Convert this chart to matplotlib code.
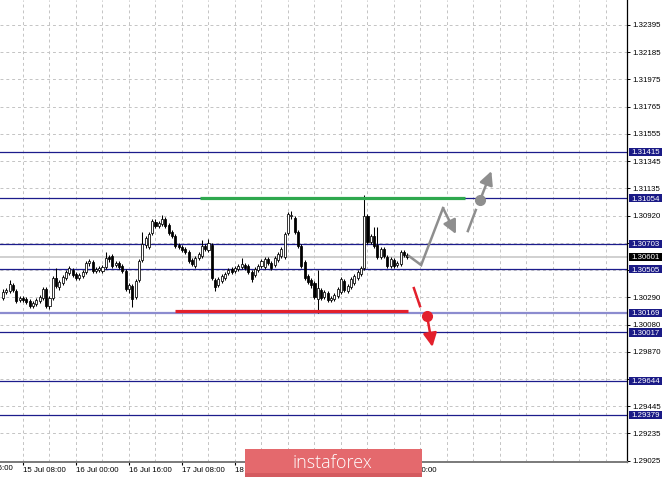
import numpy as np
import matplotlib
matplotlib.use("Agg")
import matplotlib.pyplot as plt
from matplotlib.patches import Rectangle
from matplotlib.transforms import blended_transform_factory

plt.rcParams['font.family'] = ['Liberation Sans', 'DejaVu Sans']

# ---------------- data ----------------
bar_index = list(range(10, 133))  # hourly bars, bar 0 = 12 Jul 16:00

opens = [1.30282, 1.30329, 1.30337, 1.30383, 1.30337, 1.30267, 1.30282, 1.30275, 1.30259, 1.30220,
         1.30236, 1.30259, 1.30282, 1.30352, 1.30220, 1.30282, 1.30437, 1.30368, 1.30399, 1.30437,
         1.30476, 1.30499, 1.30468, 1.30437, 1.30453, 1.30484, 1.30553, 1.30561, 1.30491, 1.30499,
         1.30491, 1.30522, 1.30600, 1.30608, 1.30538, 1.30553, 1.30530, 1.30491, 1.30352, 1.30375,
         1.30290, 1.30422, 1.30577, 1.30693, 1.30677, 1.30786, 1.30871, 1.30840, 1.30855, 1.30894,
         1.30848, 1.30793, 1.30762, 1.30693, 1.30677, 1.30662, 1.30639, 1.30577, 1.30530, 1.30592,
         1.30608, 1.30685, 1.30654, 1.30693, 1.30422, 1.30383, 1.30414, 1.30437, 1.30476, 1.30507,
         1.30491, 1.30507, 1.30522, 1.30538, 1.30530, 1.30484, 1.30460, 1.30499, 1.30530, 1.30522,
         1.30584, 1.30553, 1.30538, 1.30577, 1.30608, 1.30600, 1.30786, 1.30917, 1.30902, 1.30793,
         1.30685, 1.30561, 1.30453, 1.30422, 1.30399, 1.30275, 1.30344, 1.30290, 1.30321, 1.30267,
         1.30275, 1.30298, 1.30329, 1.30414, 1.30337, 1.30368, 1.30399, 1.30437, 1.30468, 1.30515,
         1.30917, 1.30716, 1.30762, 1.30693, 1.30600, 1.30662, 1.30600, 1.30530, 1.30577, 1.30538,
         1.30546, 1.30639, 1.30615]
highs = [1.30352, 1.30360, 1.30422, 1.30399, 1.30352, 1.30298, 1.30298, 1.30290, 1.30275, 1.30259,
         1.30282, 1.30306, 1.30368, 1.30368, 1.30298, 1.30453, 1.30515, 1.30422, 1.30460, 1.30499,
         1.30530, 1.30515, 1.30484, 1.30476, 1.30499, 1.30569, 1.30584, 1.30577, 1.30522, 1.30530,
         1.30538, 1.30639, 1.30615, 1.30623, 1.30569, 1.30569, 1.30546, 1.30507, 1.30399, 1.30391,
         1.30429, 1.30584, 1.30793, 1.30762, 1.30793, 1.30894, 1.30894, 1.30879, 1.30925, 1.30910,
         1.30863, 1.30809, 1.30778, 1.30708, 1.30693, 1.30677, 1.30654, 1.30592, 1.30608, 1.30639,
         1.30731, 1.30700, 1.30739, 1.30708, 1.30437, 1.30445, 1.30468, 1.30484, 1.30515, 1.30522,
         1.30530, 1.30546, 1.30592, 1.30553, 1.30546, 1.30499, 1.30522, 1.30546, 1.30584, 1.30600,
         1.30600, 1.30569, 1.30608, 1.30639, 1.30677, 1.30793, 1.30948, 1.30956, 1.30917, 1.30809,
         1.30700, 1.30577, 1.30468, 1.30437, 1.30414, 1.30499, 1.30360, 1.30344, 1.30337, 1.30298,
         1.30321, 1.30368, 1.30445, 1.30429, 1.30391, 1.30445, 1.30468, 1.30499, 1.30530, 1.31080,
         1.30933, 1.30778, 1.30832, 1.30832, 1.30677, 1.30677, 1.30615, 1.30600, 1.30592, 1.30569,
         1.30654, 1.30654, 1.30631]
lows = [1.30267, 1.30313, 1.30321, 1.30329, 1.30244, 1.30251, 1.30251, 1.30236, 1.30205, 1.30205,
        1.30220, 1.30244, 1.30267, 1.30205, 1.30197, 1.30267, 1.30360, 1.30344, 1.30383, 1.30422,
        1.30460, 1.30445, 1.30422, 1.30422, 1.30437, 1.30468, 1.30530, 1.30476, 1.30476, 1.30484,
        1.30476, 1.30507, 1.30561, 1.30515, 1.30522, 1.30507, 1.30476, 1.30337, 1.30321, 1.30213,
        1.30275, 1.30406, 1.30561, 1.30669, 1.30662, 1.30770, 1.30824, 1.30824, 1.30840, 1.30824,
        1.30770, 1.30747, 1.30669, 1.30662, 1.30639, 1.30623, 1.30553, 1.30530, 1.30515, 1.30577,
        1.30592, 1.30646, 1.30639, 1.30422, 1.30337, 1.30368, 1.30399, 1.30422, 1.30460, 1.30468,
        1.30476, 1.30491, 1.30507, 1.30499, 1.30468, 1.30406, 1.30445, 1.30484, 1.30515, 1.30507,
        1.30538, 1.30499, 1.30522, 1.30561, 1.30592, 1.30584, 1.30770, 1.30894, 1.30778, 1.30669,
        1.30515, 1.30422, 1.30391, 1.30360, 1.30275, 1.30166, 1.30267, 1.30275, 1.30251, 1.30251,
        1.30259, 1.30282, 1.30313, 1.30329, 1.30321, 1.30352, 1.30383, 1.30422, 1.30453, 1.30499,
        1.30700, 1.30700, 1.30669, 1.30584, 1.30584, 1.30592, 1.30515, 1.30515, 1.30515, 1.30522,
        1.30530, 1.30600, 1.30584]
closes = [1.30329, 1.30344, 1.30391, 1.30344, 1.30259, 1.30282, 1.30267, 1.30251, 1.30220, 1.30244,
          1.30267, 1.30290, 1.30352, 1.30220, 1.30282, 1.30437, 1.30375, 1.30406, 1.30445, 1.30484,
          1.30515, 1.30460, 1.30437, 1.30460, 1.30484, 1.30553, 1.30569, 1.30491, 1.30507, 1.30515,
          1.30522, 1.30592, 1.30584, 1.30530, 1.30553, 1.30522, 1.30491, 1.30352, 1.30383, 1.30275,
          1.30414, 1.30569, 1.30700, 1.30747, 1.30778, 1.30879, 1.30840, 1.30863, 1.30894, 1.30840,
          1.30786, 1.30762, 1.30685, 1.30677, 1.30654, 1.30639, 1.30569, 1.30546, 1.30592, 1.30623,
          1.30685, 1.30662, 1.30708, 1.30437, 1.30368, 1.30429, 1.30453, 1.30468, 1.30499, 1.30484,
          1.30515, 1.30530, 1.30546, 1.30515, 1.30484, 1.30429, 1.30507, 1.30530, 1.30569, 1.30584,
          1.30553, 1.30515, 1.30592, 1.30623, 1.30662, 1.30778, 1.30933, 1.30925, 1.30793, 1.30685,
          1.30530, 1.30437, 1.30406, 1.30383, 1.30290, 1.30360, 1.30282, 1.30329, 1.30267, 1.30282,
          1.30306, 1.30352, 1.30429, 1.30344, 1.30375, 1.30429, 1.30453, 1.30484, 1.30515, 1.30917,
          1.30716, 1.30762, 1.30685, 1.30600, 1.30662, 1.30608, 1.30530, 1.30584, 1.30530, 1.30553,
          1.30639, 1.30615, 1.30601]

time_tick_index = [16, 32, 48, 64, 80, 96, 112, 128]
time_tick_labels = ["15 Jul 08:00", "16 Jul 00:00", "16 Jul 16:00", "17 Jul 08:00",
                    "18 Jul 00:00", "", "", "22 Jul 00:00"]   # two labels fully hidden by the watermark
cut_label = "12 Jul 16:00"

# labels hidden behind level boxes are left blank
price_tick_labels = ["1.32395", "1.32185", "1.31975", "1.31765", "1.31555", "1.31345",
                     "1.31135", "1.30920", "", "", "1.30290", "1.30080",
                     "1.29870", "", "1.29445", "1.29235", "1.29025"]

levels = [1.31415, 1.31054, 1.30703, 1.30505, 1.30169, 1.30017, 1.29644, 1.29379]
current_price = 1.30601

green_x = [69.4, 149.4]
green_y = [1.31060, 1.31060]
red_x = [61.9, 132.2]
red_y = [1.30186, 1.30186]

up_path_x = [132.5, 136.2, 142.8, 146.7]
up_path_y = [1.30608, 1.30538, 1.30979, 1.30778]
up_dash_x = [150.3, 152.7]
up_dash_y = [1.30801, 1.30964]
up_dot = (154.0, 1.31041)
up_arrow_tip = (157.4, 1.31265)

dn_dash_x = [134.0, 135.85]
dn_dash_y = [1.30360, 1.30220]
dn_dot = (138.0, 1.30143)
dn_arrow_tip = (139.6, 1.29905)

# ---------------- figure ----------------
W, H = 665, 480
fig = plt.figure(figsize=(W / 100, H / 100), dpi=100)
fig.patch.set_facecolor('white')
ax = fig.add_axes([0, 18 / H, 627 / W, 462 / H])
ax.set_facecolor('white')
ax.set_xlim(9.057, 198.34)
ax.set_ylim(1.29015, 1.32588)

# grid
grid_kw = dict(color='#c4c4c4', lw=0.7, ls=(0, (3, 3)), zorder=1)
for gx in range(8, 200, 8):
    ax.axvline(gx, **grid_kw)
price_ticks = np.linspace(1.32395, 1.29025, len(price_tick_labels))
for gy in price_ticks:
    ax.axhline(gy, **grid_kw)

# levels
navy = '#1c1c8c'
for lv in levels:
    col = '#8c8ccf' if lv == 1.30169 else navy
    lw = 1.6 if lv == 1.30169 else 0.9
    ax.axhline(lv, color=col, lw=lw, zorder=2)
ax.axhline(current_price, color='#c8c8c8', lw=1.2, zorder=2)

# candles
x = np.array(bar_index)
o = np.array(opens); h = np.array(highs); l = np.array(lows); c = np.array(closes)
ax.vlines(x, l, h, color='black', lw=0.75, zorder=4)
bottoms = np.minimum(o, c)
heights = np.maximum(np.abs(c - o), 0.00004)
colors = ['white' if cc >= oo else 'black' for oo, cc in zip(o, c)]
ax.bar(x, heights, bottom=bottoms, width=0.62, color=colors, edgecolor='black',
       linewidth=0.55, zorder=5)

# support / resistance
ax.plot(green_x, green_y, color='#2ea84e', lw=2.3, solid_capstyle='butt', zorder=6)
ax.plot(red_x, red_y, color='#e3202c', lw=2.3, solid_capstyle='butt', zorder=6)

# forecast arrows
gray = '#8e8e8e'
ax.plot(up_path_x[:-1], up_path_y[:-1], color=gray, lw=1.8, zorder=7, solid_joinstyle='miter')
ax.annotate('', xy=(up_path_x[-1], up_path_y[-1]), xytext=(up_path_x[-2], up_path_y[-2]),
            arrowprops=dict(arrowstyle='-|>,head_length=0.9,head_width=0.45', color=gray, lw=1.8,
                            shrinkA=0, shrinkB=0, mutation_scale=9), zorder=7)
ax.plot(up_dash_x, up_dash_y, color=gray, lw=1.8, zorder=7)
ax.annotate('', xy=up_arrow_tip, xytext=up_dot,
            arrowprops=dict(arrowstyle='-|>,head_length=0.9,head_width=0.45', color=gray, lw=1.8,
                            shrinkA=0, shrinkB=0, mutation_scale=9), zorder=7)
ax.plot([up_dot[0]], [up_dot[1]], 'o', color=gray, ms=7, zorder=8)

red = '#e3202c'
ax.plot(dn_dash_x, dn_dash_y, color=red, lw=1.8, zorder=7)
ax.annotate('', xy=dn_arrow_tip, xytext=dn_dot,
            arrowprops=dict(arrowstyle='-|>,head_length=0.9,head_width=0.45', color=red, lw=1.8,
                            shrinkA=0, shrinkB=0, mutation_scale=9), zorder=7)
ax.plot([dn_dot[0]], [dn_dot[1]], 'o', color=red, ms=7, zorder=8)

# axes styling
for s in ['top', 'left']:
    ax.spines[s].set_visible(False)
ax.spines['right'].set_color('black')
ax.spines['right'].set_linewidth(0.9)
ax.spines['bottom'].set_color('#7a7a7a')
ax.spines['bottom'].set_linewidth(1.4)

ax.yaxis.tick_right()
ax.set_yticks(price_ticks)
ax.set_yticklabels(price_tick_labels)
ax.tick_params(axis='y', length=2.5, width=0.7, pad=1.5, labelsize=5.7, colors='black')
ax.set_xticks(time_tick_index)
ax.set_xticklabels(time_tick_labels)
for t in ax.get_xticklabels():
    t.set_ha('left')
ax.tick_params(axis='x', length=2.5, width=0.8, pad=1.2, labelsize=5.7, colors='black')
ax.text(0, -0.0075, cut_label, transform=blended_transform_factory(ax.transData, ax.transAxes),
        ha='left', va='top', fontsize=5.7, clip_on=False)

# level labels on the right
bt = blended_transform_factory(ax.transAxes, ax.transData)
box_h = 0.00064
for lv in levels:
    ax.add_patch(Rectangle((1.003, lv - box_h / 2), 0.053, box_h, transform=bt,
                           facecolor='#1a1a86', edgecolor='none', clip_on=False, zorder=10))
    ax.text(1.0075, lv, f"{lv:.5f}", transform=bt, ha='left', va='center_baseline',
            fontsize=5.7, color='white', clip_on=False, zorder=11)
ax.add_patch(Rectangle((1.003, current_price - box_h / 2), 0.053, box_h, transform=bt,
                       facecolor='black', edgecolor='none', clip_on=False, zorder=10))
ax.text(1.0075, current_price, f"{current_price:.5f}", transform=bt, ha='left',
        va='center_baseline', fontsize=5.7, color='white', clip_on=False, zorder=11)

# watermark
fig.patches.append(Rectangle((245 / W, 3 / H), 177 / W, 28 / H, transform=fig.transFigure,
                             facecolor='#e4696d', edgecolor='none', zorder=20))
fig.patches.append(Rectangle((245 / W, 3 / H), 177 / W, 4 / H, transform=fig.transFigure,
                             facecolor='#d45a5f', edgecolor='none', zorder=21))
fig.text(332 / W, 17 / H, "instaforex", color='white', fontsize=13, ha='center', va='center',
         family=['Open Sans', 'DejaVu Sans'], fontweight='light', zorder=22)

fig.savefig('out.png', dpi=100)
